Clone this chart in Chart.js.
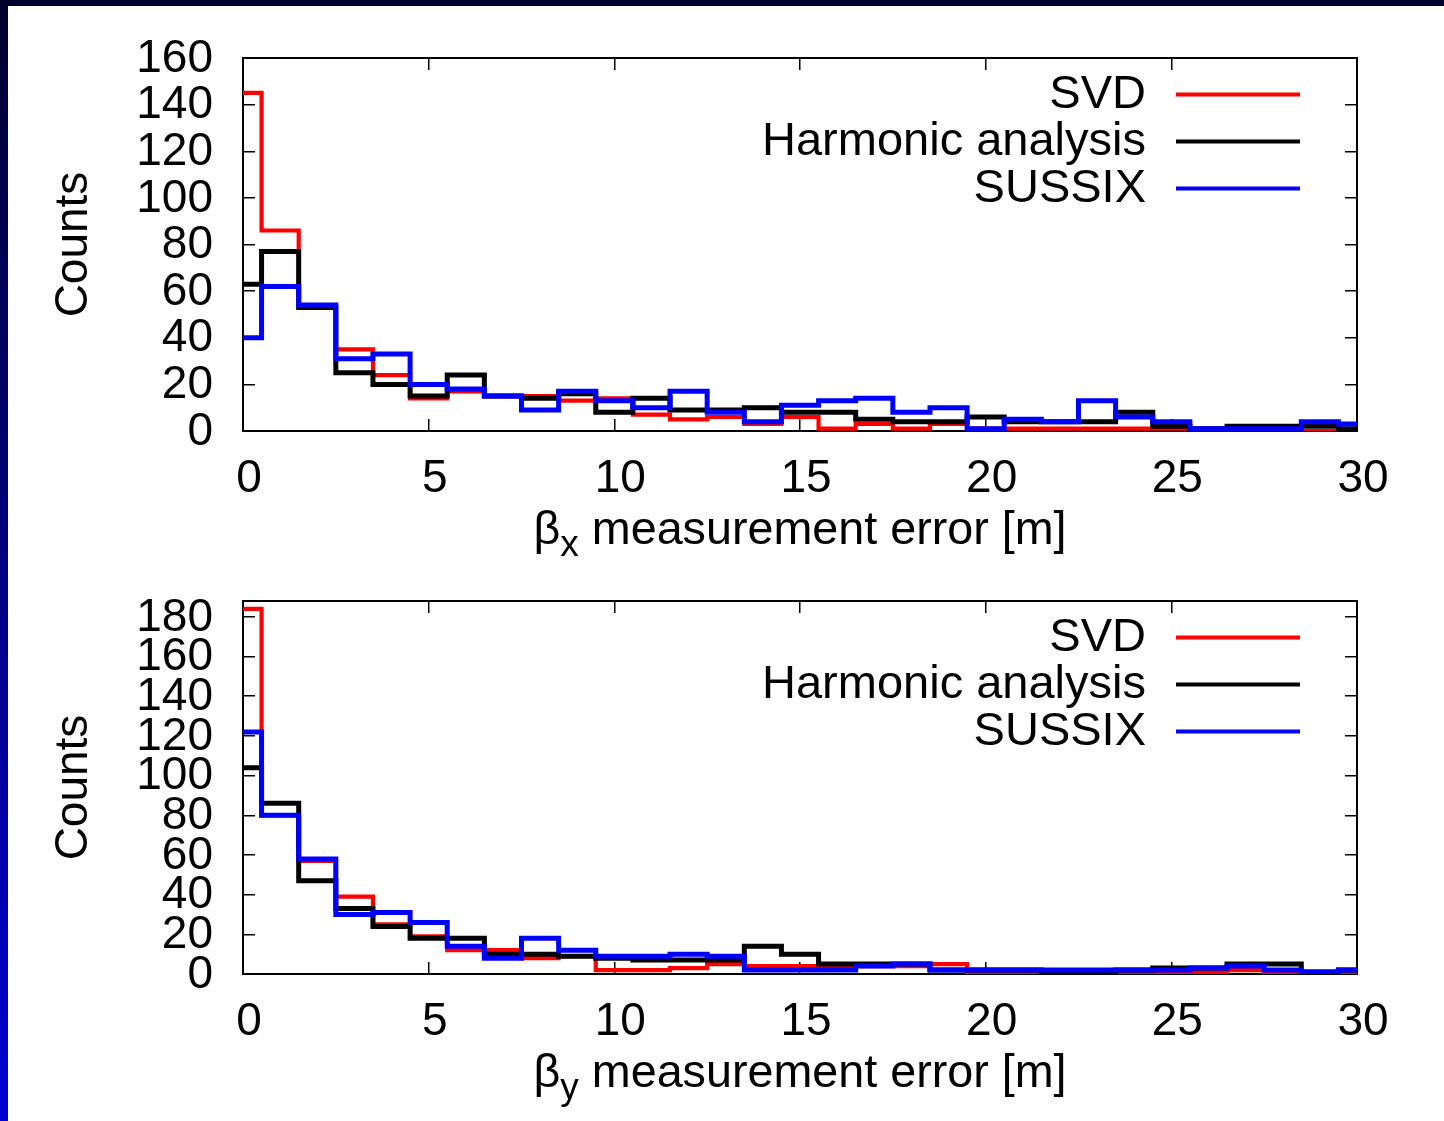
<!DOCTYPE html>
<html>
<head>
<meta charset="utf-8">
<script src="https://cdn.jsdelivr.net/npm/chart.js@4.4.0/dist/chart.umd.min.js"></script>
<style>
  html, body { margin: 0; padding: 0; background: #ffffff; width: 1444px; height: 1121px; overflow: hidden; }
  body { position: relative; }
  #topband { position: absolute; left: 0; top: 0; width: 1444px; height: 6px; background: #00002c; }
  #leftband { position: absolute; left: 0; top: 0; width: 8px; height: 1121px; background: linear-gradient(#00002c, #0000d4); }
  canvas { position: absolute; left: 0; }
  #c1 { top: 0; }
  #c2 { top: 543px; }
</style>
</head>
<body>
<div id="topband"></div>
<div id="leftband"></div>
<canvas id="c1" width="1444" height="570"></canvas>
<canvas id="c2" width="1444" height="578"></canvas>
<script>
// ---- data (bin centres, counts per bin) ----
const bins = [0,1,2,3,4,5,6,7,8,9,10,11,12,13,14,15,16,17,18,19,20,21,22,23,24,25,26,27,28,29,30];

const svdBetaX      = [145,86,54,35,24,14,17,15,15,13,14,7,5,6,3,6,1,3,1,3,1,1,1,1,1,1,0,0,0,0,0];
const harmonicBetaX = [63,77,53,25,20,15,24,15,14,16,8,14,9,9,10,8,8,5,4,4,6,4,4,4,8,2,1,2,2,2,1];
const sussixBetaX   = [40,62,54,31,33,20,18,15,9,17,13,10,17,8,4,11,13,14,8,10,1,5,4,13,6,4,1,1,1,4,3];

const svdBetaY      = [184,80,57,39,25,19,12,12,8,9,2,2,3,5,4,4,3,4,4,5,1,1,1,1,1,1,1,2,0,0,0];
const harmonicBetaY = [104,86,47,33,24,18,18,10,10,9,8,7,7,7,14,10,5,5,5,2,2,2,1,1,2,3,3,5,5,1,2];
const sussixBetaY   = [122,80,58,30,31,26,14,8,18,12,9,9,10,9,2,2,2,4,5,2,2,2,2,2,2,2,3,4,2,1,2];

const seriesNames  = ['SVD', 'Harmonic analysis', 'SUSSIX'];
const seriesColors = ['#ff0000', '#000000', '#0000ff'];
const seriesWidths = [4.2, 5, 5];

const xTickValues   = [0, 5, 10, 15, 20, 25, 30];
const yTicksTop     = [0, 20, 40, 60, 80, 100, 120, 140, 160];
const yTicksBottom  = [0, 20, 40, 60, 80, 100, 120, 140, 160, 180];
const yMaxTop = 160;
const yMaxBottom = 188;

const yTitle = 'Counts';
const xTitleTop    = ['\u03B2', 'x', ' measurement error [m]'];
const xTitleBottom = ['\u03B2', 'y', ' measurement error [m]'];

// ---- styling ----
const FONT = '"Liberation Sans", Arial, Helvetica, sans-serif';
Chart.defaults.font.family = FONT;
Chart.defaults.font.size = 46;
Chart.defaults.color = '#000';

// legend drawn gnuplot-style (text right-aligned, line sample on the right)
const gnuLegend = {
  id: 'gnuLegend',
  afterDatasetsDraw(chart) {
    const { ctx, chartArea: a } = chart;
    ctx.save();
    ctx.font = '47px ' + FONT;
    ctx.textAlign = 'right';
    ctx.textBaseline = 'middle';
    chart.data.datasets.forEach((ds, i) => {
      const y = a.top + 36.5 + i * 47;
      ctx.fillStyle = '#000';
      ctx.fillText(ds.label, a.right - 211, y + 0.5);
      ctx.strokeStyle = ds.borderColor;
      ctx.lineWidth = 4;
      ctx.beginPath();
      ctx.moveTo(a.right - 181, y);
      ctx.lineTo(a.right - 57, y);
      ctx.stroke();
    });
    ctx.restore();
  }
};

// x-axis title with subscript
const subTitle = {
  id: 'subTitle',
  afterDraw(chart, args, opts) {
    const parts = opts.parts;
    if (!parts) return;
    const { ctx, chartArea: a } = chart;
    ctx.save();
    ctx.fillStyle = '#000';
    ctx.textBaseline = 'alphabetic';
    ctx.textAlign = 'left';
    const big = '46.7px ' + FONT, small = '37px ' + FONT;
    ctx.font = big; const w0 = ctx.measureText(parts[0]).width;
    ctx.font = small; const w1 = ctx.measureText(parts[1]).width;
    ctx.font = big; const w2 = ctx.measureText(parts[2]).width;
    const total = w0 + w1 + w2;
    let x = (a.left + a.right) / 2 - total / 2;
    const base = a.bottom + 112.5;
    ctx.font = big; ctx.fillText(parts[0], x, base); x += w0;
    ctx.font = small; ctx.fillText(parts[1], x, base + 12); x += w1;
    ctx.font = big; ctx.fillText(parts[2], x, base);
    ctx.restore();
  }
};

function makeChart(canvasId, series, yTicks, yMax, titleParts) {
  const canvas = document.getElementById(canvasId);
  const H = canvas.height;
  const orders = [2, 1, 0]; // SUSSIX on top, SVD at bottom
  const datasets = series.map((vals, i) => ({
    label: seriesNames[i],
    data: bins.map((b, k) => ({ x: b, y: vals[k] })),
    borderColor: seriesColors[i],
    backgroundColor: seriesColors[i],
    borderWidth: seriesWidths[i],
    stepped: 'middle',
    pointRadius: 0,
    pointHoverRadius: 0,
    fill: false,
    order: orders[i]
  }));
  const gridOpts = {
    display: true,
    drawOnChartArea: false,
    drawTicks: true,
    tickLength: -12,
    color: '#000',
    tickColor: '#000',
    lineWidth: 1.5,
    tickWidth: 1.5
  };
  const borderOpts = { display: true, color: '#000', width: 2 };
  const setXTicks = s => { s.ticks = xTickValues.map(v => ({ value: v })); };
  const setYTicks = s => { s.ticks = yTicks.map(v => ({ value: v })); };
  const noPad = s => { s.paddingTop = 0; s.paddingBottom = 0; s.paddingLeft = 0; s.paddingRight = 0; };
  return new Chart(canvas, {
    type: 'line',
    data: { datasets },
    options: {
      responsive: false,
      animation: false,
      events: [],
      layout: { padding: 0 },
      plugins: {
        legend: { display: false },
        tooltip: { enabled: false },
        subTitle: { parts: titleParts }
      },
      scales: {
        x: {
          type: 'linear', position: 'bottom', min: 0, max: 30,
          afterBuildTicks: setXTicks,
          afterFit: s => { s.height = H - 431; noPad(s); },
          ticks: { padding: 33, labelOffset: 6, maxRotation: 0, autoSkip: false, color: '#000', font: { size: 46 } },
          grid: gridOpts, border: borderOpts
        },
        x2: {
          type: 'linear', position: 'top', min: 0, max: 30,
          afterBuildTicks: setXTicks,
          afterFit: s => { s.height = 58; noPad(s); },
          ticks: { display: false, autoSkip: false },
          grid: gridOpts, border: borderOpts
        },
        y: {
          type: 'linear', position: 'left', min: 0, max: yMax,
          afterBuildTicks: setYTicks,
          afterFit: s => { s.width = 243; noPad(s); },
          ticks: { padding: 42, labelOffset: 1, autoSkip: false, color: '#000', font: { size: 46 } },
          grid: gridOpts, border: borderOpts,
          title: { display: true, text: yTitle, color: '#000', font: { size: 46 }, padding: { top: 47, bottom: 0 } }
        },
        y2: {
          type: 'linear', position: 'right', min: 0, max: yMax,
          afterBuildTicks: setYTicks,
          afterFit: s => { s.width = 1444 - 1357; noPad(s); },
          ticks: { display: false, autoSkip: false },
          grid: gridOpts, border: borderOpts
        }
      }
    },
    plugins: [gnuLegend, subTitle]
  });
}

makeChart('c1', [svdBetaX, harmonicBetaX, sussixBetaX], yTicksTop, yMaxTop, xTitleTop);
makeChart('c2', [svdBetaY, harmonicBetaY, sussixBetaY], yTicksBottom, yMaxBottom, xTitleBottom);
</script>
</body>
</html>
